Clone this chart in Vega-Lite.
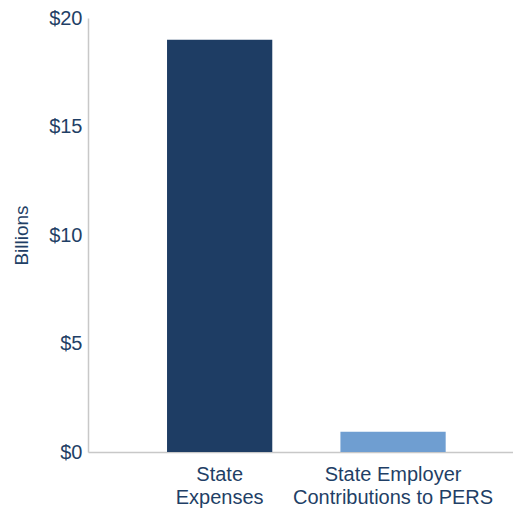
{
  "$schema": "https://vega.github.io/schema/vega-lite/v6.json",
  "width": 425,
  "height": 434,
  "autosize": {"type": "none"},
  "padding": {"left": 88, "top": 18, "right": 0, "bottom": 63},
  "background": "white",
  "config": {
    "view": {"stroke": null},
    "font": "Liberation Sans"
  },
  "data": {
    "values": [
      {"category": "State Expenses", "value": 19.0, "group": "a"},
      {"category": "State Employer Contributions to PERS", "value": 0.93, "group": "b"}
    ]
  },
  "mark": {"type": "bar"},
  "encoding": {
    "x": {
      "field": "category",
      "type": "nominal",
      "sort": null,
      "scale": {"paddingInner": 0.393, "paddingOuter": 0.422, "align": 0.54},
      "axis": {
        "title": null,
        "labelAngle": 0,
        "labelExpr": "datum.value == 'State Expenses' ? ['State', 'Expenses'] : ['State Employer', 'Contributions to PERS']",
        "labelFontSize": 20,
        "labelColor": "#1f3f66",
        "labelLineHeight": 23,
        "labelPadding": 12,
        "labelLimit": 0,
        "ticks": false,
        "domainColor": "#c8c8c8",
        "domainWidth": 1.5
      }
    },
    "y": {
      "field": "value",
      "type": "quantitative",
      "scale": {"domain": [0, 20], "nice": false},
      "axis": {
        "title": "Billions",
        "titleFontSize": 19,
        "titleFontWeight": "normal",
        "titleColor": "#1f3f66",
        "titlePadding": 17,
        "values": [0, 5, 10, 15, 20],
        "format": "$.0f",
        "labelFontSize": 20,
        "labelColor": "#1f3f66",
        "labelPadding": 6,
        "labelFlush": false,
        "ticks": false,
        "grid": false,
        "domainColor": "#c8c8c8",
        "domainWidth": 1.5
      }
    },
    "color": {
      "field": "group",
      "type": "nominal",
      "scale": {"domain": ["a", "b"], "range": ["#1e3d64", "#6f9ed1"]},
      "legend": null
    }
  }
}
